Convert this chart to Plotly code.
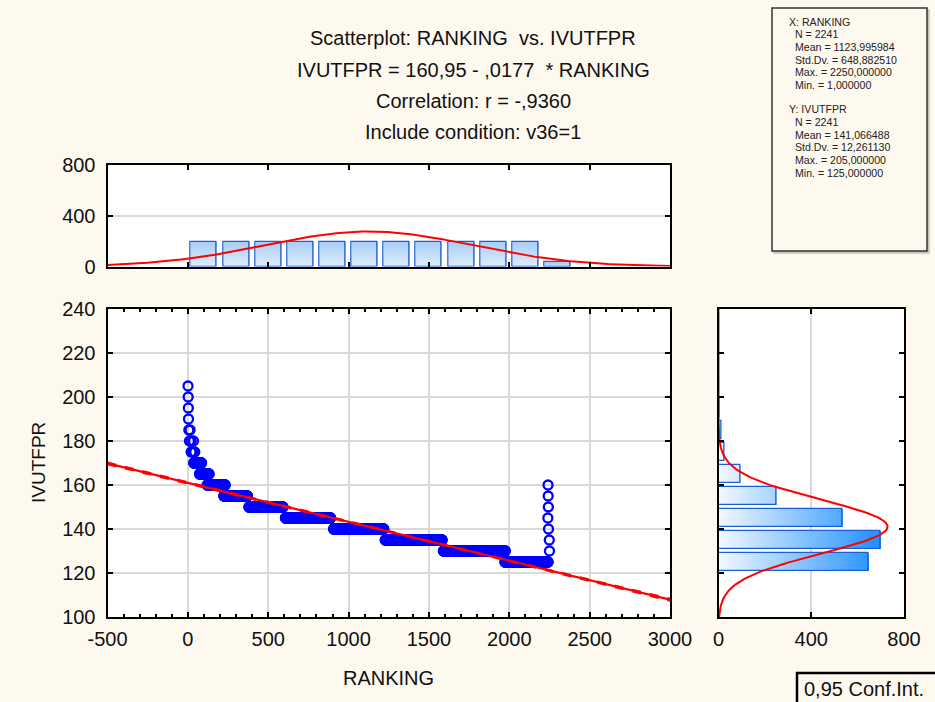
import numpy as np
import plotly.graph_objects as go

W, H = 935, 702

# ---------------- data ----------------
N = 2241
x_mean, x_sd, x_max, x_min = 1123.995984, 648.882510, 2250.0, 1.0
y_mean, y_sd, y_max, y_min = 141.066488, 12.261130, 205.0, 125.0
intercept, slope = 160.95, -0.0177
r_corr = -0.9360

# isolated points (RANKING, IVUTFPR)
sparse_rank = [1, 2, 3, 4, 6, 14, 10, 20, 35, 20, 28, 36, 43,
               2241, 2242, 2243, 2240, 2244, 2249, 2250]
sparse_val = [205, 200, 195, 190, 185, 185, 180, 180, 180, 175, 175, 175, 175,
              160, 155, 150, 145, 140, 135, 130]

# dense runs: one case per rank between start and end rank
band_val = [170, 165, 160, 155, 150, 145, 140, 135, 130, 125]
band_start = [37, 73, 120, 224, 380, 607, 907, 1228, 1590, 1973]
band_end = [85, 132, 232, 371, 592, 888, 1219, 1582, 1975, 2241]

# histogram of RANKING (bin start, count)
top_bin_start = [0, 200, 400, 600, 800, 1000, 1200, 1400, 1600, 1800, 2000, 2200]
top_counts = [193, 193, 194, 193, 193, 194, 193, 193, 194, 193, 193, 33]
top_bin_w = 200

# histogram of IVUTFPR (bin start, count)
right_bin_start = [120, 130, 140, 150, 160, 170, 180, 190, 200]
right_counts = [649, 700, 533, 249, 94, 25, 11, 4, 2]
right_bin_w = 10

# tick labels
main_x_ticks = [-500, 0, 500, 1000, 1500, 2000, 2500, 3000]
main_x_labels = ["-500", "0", "500", "1000", "1500", "2000", "2500", "3000"]

title_lines = ["Scatterplot: RANKING\u00a0\u00a0vs. IVUTFPR",
               "IVUTFPR = 160,95 - ,0177\u00a0\u00a0* RANKING",
               "Correlation: r = -,9360",
               "Include condition: v36=1"]
stats_lines = ["X: RANKING", "N = 2241", "Mean = 1123,995984", "Std.Dv. = 648,882510",
               "Max. = 2250,000000", "Min. = 1,000000",
               "Y: IVUTFPR", "N = 2241", "Mean = 141,066488", "Std.Dv. = 12,261130",
               "Max. = 205,000000", "Min. = 125,000000"]

# ---------------- helpers ----------------
def px(x):
    return x / W

def py(y):
    return 1 - y / H

BG = "#FEF9EF"
FONT = "Liberation Sans, Arial, sans-serif"
BLUE_LINE = "#1B5FD8"
TXT = "#111111"

def lerp_color(c0, c1, t):
    t = min(max(t, 0.0), 1.0)
    a = [int(c0[i:i + 2], 16) for i in (1, 3, 5)]
    b = [int(c1[i:i + 2], 16) for i in (1, 3, 5)]
    return "rgb(%d,%d,%d)" % tuple(round(a[k] + (b[k] - a[k]) * t) for k in range(3))

fig = go.Figure()

# ---------------- scatter ----------------
xs = list(sparse_rank)
ys = list(sparse_val)
for v, s, e in zip(band_val, band_start, band_end):
    rr = list(range(s, e + 1))
    xs += rr
    ys += [v] * len(rr)

fig.add_trace(go.Scatter(x=xs, y=ys, mode="markers", xaxis="x", yaxis="y",
                         marker=dict(symbol="circle-open", size=9, color="#0000FF",
                                     line=dict(width=2.3, color="#0000FF")),
                         hoverinfo="skip"))

# regression line + 95% confidence band
xl = np.linspace(-500, 3000, 120)
yl = intercept + slope * xl
s_res = y_sd * np.sqrt(1 - r_corr ** 2) * np.sqrt((N - 1) / (N - 2))
se = s_res * np.sqrt(1.0 / N + (xl - x_mean) ** 2 / ((N - 1) * x_sd ** 2))
for sign in (-1, 1):
    fig.add_trace(go.Scatter(x=xl, y=yl + sign * 1.96 * se, mode="lines", xaxis="x", yaxis="y",
                             line=dict(color="#FF0000", width=1.6, dash="dash"), hoverinfo="skip"))
fig.add_trace(go.Scatter(x=xl, y=yl, mode="lines", xaxis="x", yaxis="y",
                         line=dict(color="#FF0000", width=2.2), hoverinfo="skip"))

# ---------------- top histogram (vertical gradient) ----------------
top_centers = [s + top_bin_w / 2 for s in top_bin_start]
nseg = 12
for k in range(nseg):
    lens, bases = [], []
    for c in top_counts:
        h = c / nseg
        bases.append(k * h)
        lens.append(h * 1.08 if k < nseg - 1 else h)
    fig.add_trace(go.Bar(x=top_centers, y=lens, base=bases, width=162, xaxis="x2", yaxis="y2",
                         marker=dict(color=lerp_color("#DCEBFC", "#A9CFF7", k / (nseg - 1)),
                                     line=dict(width=0)),
                         hoverinfo="skip"))
fig.add_trace(go.Bar(x=top_centers, y=top_counts, width=162, xaxis="x2", yaxis="y2",
                     marker=dict(color="rgba(0,0,0,0)", line=dict(width=1.3, color=BLUE_LINE)),
                     hoverinfo="skip"))

xt = np.linspace(-500, 3000, 200)
yt = N * top_bin_w * np.exp(-0.5 * ((xt - x_mean) / x_sd) ** 2) / (x_sd * np.sqrt(2 * np.pi))
fig.add_trace(go.Scatter(x=xt, y=yt, mode="lines", xaxis="x2", yaxis="y2",
                         line=dict(color="#FF0000", width=2), hoverinfo="skip"))

# ---------------- right histogram (horizontal gradient) ----------------
right_centers = [s + right_bin_w / 2 for s in right_bin_start]
seg = 10
maxc = max(right_counts)
nseg_r = int(np.ceil(maxc / seg))
for k in range(nseg_r):
    lens, bases = [], []
    for c in right_counts:
        b = k * seg
        L = max(0.0, min(seg + 2, c - b))
        bases.append(b)
        lens.append(L)
    fig.add_trace(go.Bar(y=right_centers, x=lens, base=bases, width=8.2, orientation="h",
                         xaxis="x3", yaxis="y3",
                         marker=dict(color=lerp_color("#F2F8FF", "#1E8FFF", (k * seg + seg / 2) / 700.0),
                                     line=dict(width=0)),
                         hoverinfo="skip"))
fig.add_trace(go.Bar(y=right_centers, x=right_counts, width=8.2, orientation="h",
                     xaxis="x3", yaxis="y3",
                     marker=dict(color="rgba(0,0,0,0)", line=dict(width=1.3, color=BLUE_LINE)),
                     hoverinfo="skip"))

yr = np.linspace(100, 240, 300)
xr = N * right_bin_w * np.exp(-0.5 * ((yr - y_mean) / y_sd) ** 2) / (y_sd * np.sqrt(2 * np.pi))
fig.add_trace(go.Scatter(x=xr, y=yr, mode="lines", xaxis="x3", yaxis="y3",
                         line=dict(color="#FF0000", width=2), hoverinfo="skip"))

# ---------------- axes ----------------
tickfont = dict(family=FONT, size=20, color=TXT)
GRID = "#D9D9D9"
common = dict(showline=True, linecolor="#000000", linewidth=2, mirror="ticks",
              ticks="inside", ticklen=5, tickwidth=1.5, tickcolor="#000000",
              tickfont=tickfont, zeroline=False, fixedrange=True, automargin=False)

main_xd = [px(107.5), px(670)]
main_yd = [py(617), py(309)]

fig.update_layout(
    xaxis=dict(domain=main_xd, range=[-500, 3000], tickmode="array",
               tickvals=main_x_ticks, ticktext=main_x_labels, anchor="y",
               showgrid=True, gridcolor=GRID, gridwidth=1.5, ticklabelstandoff=3,
               minor=dict(ticks="inside", ticklen=3, dtick=100, tick0=0, tickcolor="#000000", showgrid=False),
               **common),
    yaxis=dict(domain=main_yd, range=[100, 240], dtick=20, tick0=100, anchor="x",
               showgrid=True, gridcolor=GRID, gridwidth=1.5, ticklabelstandoff=6, **common),
    xaxis2=dict(domain=main_xd, range=[-500, 3000], dtick=500, tick0=0, anchor="y2",
                showgrid=False, showticklabels=False, **common),
    yaxis2=dict(domain=[py(266.5), py(165)], range=[0, 800], dtick=400, tick0=0, anchor="x2",
                showgrid=True, gridcolor=GRID, gridwidth=1.5, ticklabelstandoff=6, **common),
    xaxis3=dict(domain=[px(718.5), px(904)], range=[0, 800], dtick=400, tick0=0, anchor="y3",
                showgrid=True, gridcolor=GRID, gridwidth=1.5, ticklabelstandoff=3, **common),
    yaxis3=dict(domain=main_yd, range=[100, 240], dtick=20, tick0=100, anchor="x3",
                showgrid=False, showticklabels=False, layer="above traces", **common),
)

# ---------------- text, boxes ----------------
ann = []
for t, yc in zip(title_lines, [38, 70, 101, 132]):
    ann.append(dict(text=t, x=px(473), y=py(yc), xref="paper", yref="paper",
                    xanchor="center", yanchor="middle", showarrow=False,
                    font=dict(family=FONT, size=20, color=TXT)))

stat_y = [21.7, 34.3, 47, 59.6, 72.3, 85, 109.3, 122, 134.6, 147.3, 160, 172.6]
for t, yc in zip(stats_lines, stat_y):
    indent = 786.5 if t.startswith(("X:", "Y:")) else 793
    ann.append(dict(text=t, x=px(indent), y=py(yc), xref="paper", yref="paper",
                    xanchor="left", yanchor="middle", showarrow=False,
                    font=dict(family=FONT, size=10.6, color="#222222")))

ann.append(dict(text="RANKING", x=px(388.75), y=py(678), xref="paper", yref="paper",
                xanchor="center", yanchor="middle", showarrow=False,
                font=dict(family=FONT, size=20, color=TXT)))
ann.append(dict(text="IVUTFPR", x=px(38), y=py(463), xref="paper", yref="paper",
                xanchor="center", yanchor="middle", showarrow=False, textangle=-90,
                font=dict(family=FONT, size=19, color=TXT)))
ann.append(dict(text="0,95 Conf.Int.", x=px(802), y=py(689), xref="paper", yref="paper",
                xanchor="left", yanchor="middle", showarrow=False,
                font=dict(family=FONT, size=20, color=TXT)))

shapes = [
    dict(type="rect", xref="paper", yref="paper", x0=px(774), x1=px(929), y0=py(253), y1=py(10),
         line=dict(color="#C8C4BA", width=1.5), fillcolor="#C8C4BA", layer="below"),
    dict(type="rect", xref="paper", yref="paper", x0=px(772), x1=px(927), y0=py(251), y1=py(8),
         line=dict(color="#333333", width=1.5), fillcolor=BG, layer="below"),
    dict(type="rect", xref="paper", yref="paper", x0=px(797), x1=px(940), y0=py(708), y1=py(673),
         line=dict(color="#000000", width=2.5), fillcolor=BG, layer="below"),
]

fig.update_layout(
    width=W, height=H, margin=dict(l=0, r=0, t=0, b=0, pad=0, autoexpand=False),
    paper_bgcolor=BG, plot_bgcolor="#FFFFFF",
    showlegend=False, barmode="overlay", bargap=0,
    annotations=ann, shapes=shapes,
    font=dict(family=FONT),
)

fig.write_html("out.html", config={"displayModeBar": False},
               post_script="document.body.style.margin='0';document.body.style.overflow='hidden';")
